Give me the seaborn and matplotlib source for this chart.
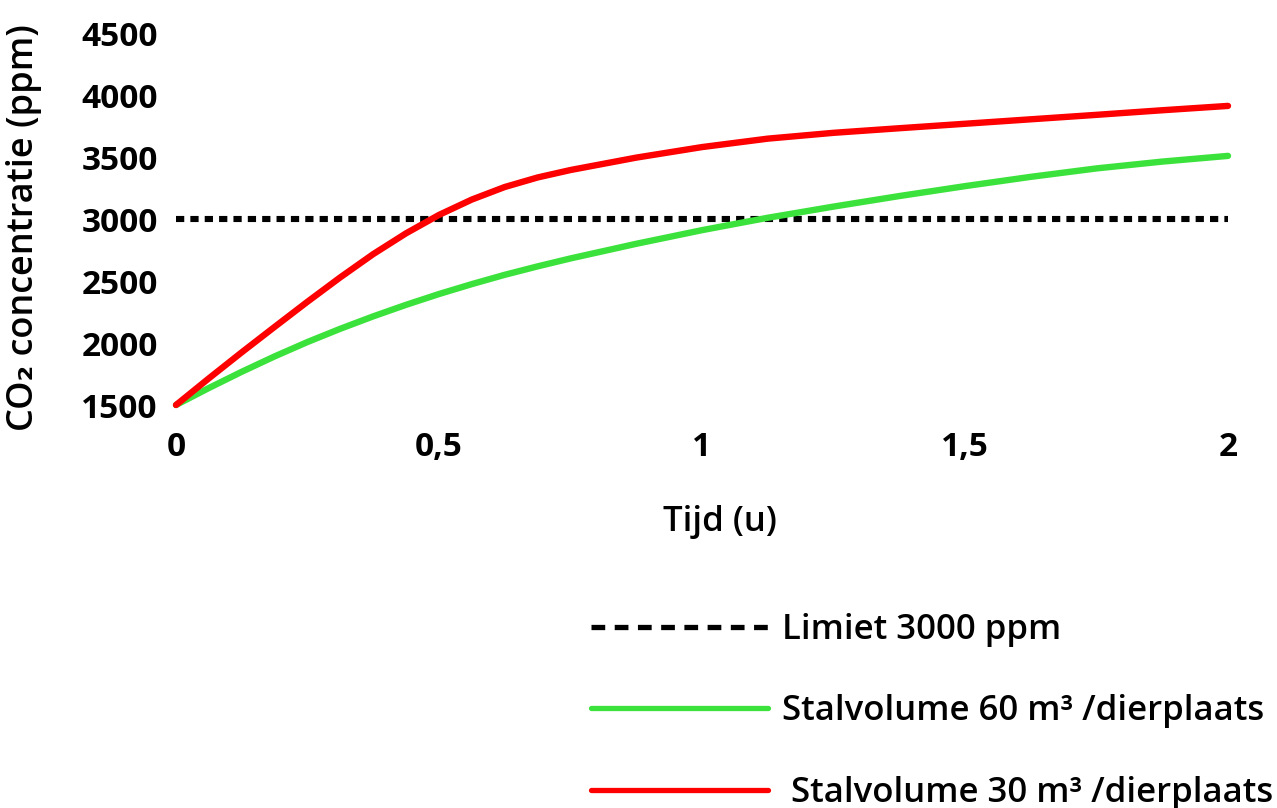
import numpy as np
import pandas as pd
import matplotlib
matplotlib.use('Agg')
import matplotlib.pyplot as plt
from matplotlib.lines import Line2D
import seaborn as sns

# data
tijd = [0, 0.0625, 0.125, 0.1875, 0.25, 0.3125, 0.375, 0.4375, 0.5,
        0.5625, 0.625, 0.6875, 0.75, 0.875, 1.0, 1.125, 1.25, 1.375,
        1.5, 1.625, 1.75, 1.875, 2.0]
co2_30 = [1500, 1715, 1925, 2130, 2333, 2530, 2717, 2885, 3033,
          3157, 3258, 3335, 3395, 3495, 3580, 3648, 3695, 3732,
          3768, 3804, 3840, 3877, 3912]
co2_60 = [1500, 1637, 1768, 1892, 2008, 2115, 2215, 2308, 2395,
          2475, 2550, 2618, 2682, 2800, 2910, 3010, 3100, 3185,
          3265, 3340, 3408, 3463, 3509]
limiet = 3000

x_ticks = [0, 0.5, 1, 1.5, 2]
x_ticklabels = ['0', '0,5', '1', '1,5', '2']
y_ticks = [1500, 2000, 2500, 3000, 3500, 4000, 4500]

lbl_limiet = 'Limiet 3000 ppm'
lbl_60 = 'Stalvolume 60 m³ /dierplaats'
lbl_30 = ' Stalvolume 30 m³ /dierplaats'

df = pd.DataFrame({
    'tijd': tijd * 2,
    'co2': co2_60 + co2_30,
    'stal': [lbl_60] * len(tijd) + [lbl_30] * len(tijd),
})

sns.set_theme(style='white')
plt.rcParams['font.family'] = ['Open Sans', 'DejaVu Sans']
plt.rcParams['text.color'] = 'black'
plt.rcParams['axes.labelcolor'] = 'black'
plt.rcParams['xtick.color'] = 'black'
plt.rcParams['ytick.color'] = 'black'

green = '#3ce23c'
red = '#ff0000'

fig = plt.figure(figsize=(12.77, 8.08), dpi=100)
ax = fig.add_axes([176 / 1277, 1 - 405 / 808, 1052 / 1277, 372 / 808])

sns.lineplot(data=df, x='tijd', y='co2', hue='stal',
             palette={lbl_60: green, lbl_30: red},
             linewidth=4.6, legend=False, ax=ax, clip_on=False)
ax.plot([tijd[0], tijd[-1]], [limiet, limiet], color='black',
        linewidth=4.4, linestyle=(0, (1.35, 1.0)), dash_capstyle='butt',
        clip_on=False, zorder=1)

ax.set_xlim(0, 2)
ax.set_ylim(1500, 4500)
sns.despine(ax=ax, left=True, bottom=True)
ax.grid(False)

ax.set_xticks(x_ticks)
ax.set_xticklabels(x_ticklabels, fontsize=24, fontweight='bold')
ax.set_yticks(y_ticks)
ax.set_yticklabels([str(v) for v in y_ticks], fontsize=24, fontweight='bold')
ax.tick_params(axis='x', length=0, pad=19)
ax.tick_params(axis='y', length=0, pad=13)

ax.set_xlabel('Tijd (u)', fontsize=25, fontweight='semibold')
ax.set_ylabel('CO₂ concentratie (ppm)', fontsize=26, fontweight='semibold')
ax.xaxis.set_label_coords(0.517, -0.268)
ax.yaxis.set_label_coords(-0.127, 0.476)

handles = [
    Line2D([], [], color='black', linewidth=3.8, linestyle=(0, (2.6, 1.8))),
    Line2D([], [], color=green, linewidth=3.8),
    Line2D([], [], color=red, linewidth=3.8),
]
fig.legend(handles, [lbl_limiet, lbl_60, lbl_30], loc='upper left',
           bbox_to_anchor=(560 / 1277, 1 - 582 / 808), frameon=False,
           prop={'size': 25, 'weight': 'semibold'}, handlelength=5.1,
           handletextpad=0.4, labelspacing=1.36)

fig.savefig('out.png', dpi=100, facecolor='white')
